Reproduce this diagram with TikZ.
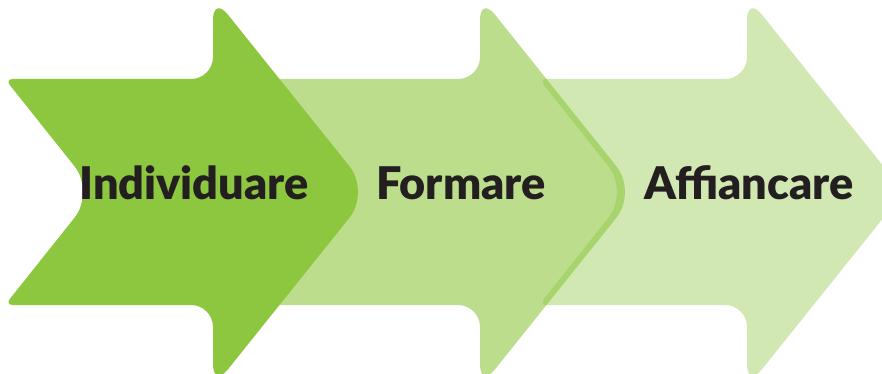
\documentclass[tikz,border=0pt]{standalone}
\usepackage{fontspec}
\setmainfont{Lato}
\IfFontExistsTF{Lato Black}{\newfontfamily\lblfont{Lato Black}}{%
  \IfFontExistsTF{Lato Heavy}{\newfontfamily\lblfont{Lato Heavy}}{\newcommand\lblfont{\bfseries}}}
\definecolor{agreen}{HTML}{8DC63F}
\definecolor{txt}{HTML}{231F20}
\tikzset{
  lbl/.style={anchor=base, font=\lblfont\fontsize{45}{50}\selectfont, text=txt, inner sep=0pt},
}
\newcommand\chevronpath[1]{%
  \path[#1] (120,79)
    [rounded corners=22pt] -- (213,79)
    [rounded corners=24pt] -- (213,-4)
    [rounded corners=33pt] -- (370,192)
    [rounded corners=24pt] -- (213,388)
    [rounded corners=22pt] -- (213,305)
    [rounded corners=8pt] -- (5,305)
    [rounded corners=33pt] -- (95,192)
    [rounded corners=8pt] -- (5,79)
    -- cycle;}
\begin{document}
\begin{tikzpicture}[x=1pt,y=-1pt]
\useasboundingbox (0,0) rectangle (882,374);
\clip (0,0) rectangle (882,374);
\begin{scope}[shift={(534,0)}]
  \chevronpath{fill=agreen, fill opacity=0.4}
\end{scope}
\begin{scope}[shift={(267,0)}]
  \chevronpath{fill=agreen, fill opacity=0.6}
\end{scope}
\chevronpath{fill=agreen}
\node[lbl] (t1) at (194,199) {Individuare};
\node[lbl] (t2) at (461,199) {Formare};
\node[lbl] (t3) at (749,199) {Affiancare};
\end{tikzpicture}
\end{document}
